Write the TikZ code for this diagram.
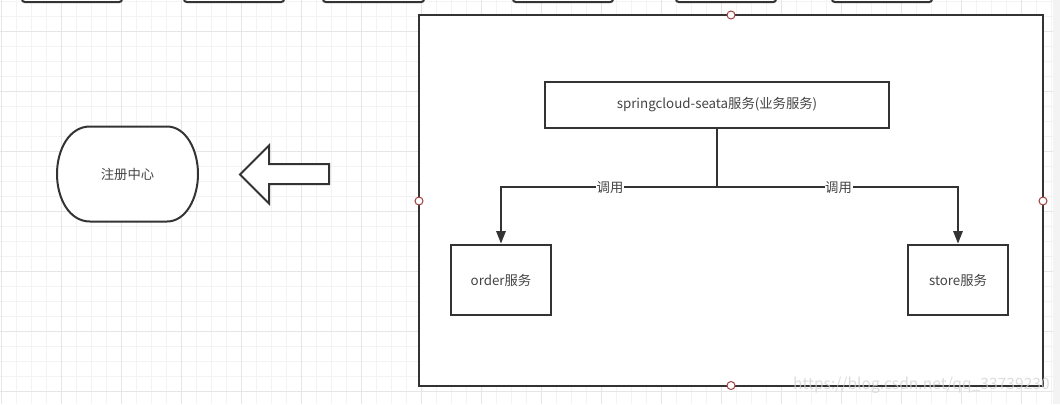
\documentclass[tikz,border=0pt]{standalone}
\usepackage{fontspec}
\setmainfont{Noto Sans CJK SC}
\usetikzlibrary{arrows.meta}
\definecolor{ink}{HTML}{333333}
\definecolor{txt}{HTML}{444444}
\definecolor{minorg}{HTML}{F3F3F3}
\definecolor{majorg}{HTML}{E6E6E6}
\definecolor{handle}{HTML}{A04040}
\tikzset{
  x=0.75pt,y=-0.75pt,
  shapebox/.style={draw=ink,line width=1.5pt,fill=white,text=txt,font=\fontsize{10}{12}\selectfont,inner sep=0pt,outer sep=0pt,align=center},
  plaintext/.style={text=txt,font=\fontsize{10}{12}\selectfont,inner sep=0pt},
  outline/.style={draw=ink,line width=1.5pt,fill=white},
  topbox/.style={draw=ink,line width=1.5pt,fill=white,rounded corners=2pt},
  link/.style={draw=ink,line width=1.5pt},
  linkarrow/.style={link,-{Triangle[length=9.5pt,width=7pt]},shorten >=1pt},
  linklabel/.style={fill=white,text=txt,font=\fontsize{10}{12}\selectfont,inner xsep=0.5pt,inner ysep=0pt},
  handlept/.style={circle,draw=handle,fill=white,line width=0.75pt,minimum size=6pt,inner sep=0pt}
}
\begin{document}
\begin{tikzpicture}
\useasboundingbox (0,0) rectangle (1060,404);
\fill[white] (0,0) rectangle (1060,404);
% grid
\foreach \k in {0,...,70} {\draw[minorg,line width=0.75pt] ({1.7+15*\k},0) -- ({1.7+15*\k},404);}
\foreach \k in {0,...,26} {\draw[minorg,line width=0.75pt] (0,{1.7+15*\k}) -- (1060,{1.7+15*\k});}
\foreach \k in {0,...,17} {\draw[majorg,line width=0.75pt] ({1.7+60*\k},0) -- ({1.7+60*\k},404);}
\foreach \k in {0,...,6} {\draw[majorg,line width=0.75pt] (0,{31.7+60*\k}) -- (1060,{31.7+60*\k});}
\fill[minorg] (1053,0) rectangle (1060,404);
% clipped top boxes
\foreach \a/\b in {22/122,184/284,323/424,513/613,676/776,832/932}
  {\draw[topbox] (\a,-10) rectangle (\b,2);}
% container
\node[shapebox,minimum width=468pt,minimum height=277.9pt,anchor=north west] (frame) at (419,15) {};
% registry
\draw[outline] (90,126.5) -- (167,126.5)
  .. controls (186,126.5) and (198,150) .. (198,174)
  .. controls (198,198) and (186,221.5) .. (167,221.5)
  -- (90,221.5)
  .. controls (69,221.5) and (57,198) .. (57,174)
  .. controls (57,150) and (69,126.5) .. (90,126.5) -- cycle;
\node[plaintext] (registry) at (127.5,174.5) {注册中心};
% big arrow
\draw[outline,line join=miter] (329,164) -- (269,164) -- (269,145.5) -- (240,174.5) -- (269,203.5) -- (269,184) -- (329,184) -- cycle;
% service boxes
\node[shapebox,minimum width=258pt,minimum height=35pt] (main) at (717,105) {springcloud-seata服务(业务服务)};
\node[shapebox,minimum width=75pt,minimum height=52.5pt] (order) at (501,280) {order服务};
\node[shapebox,minimum width=75pt,minimum height=52.5pt] (store) at (958,280) {store服务};
% connectors
\coordinate (branch) at (717,187);
\draw[link] (main.south) -- (branch);
\draw[linkarrow] (branch) -| (order.north);
\draw[linkarrow] (branch) -| (store.north);
\node[linklabel] (callleft) at (610,187.5) {调用};
\node[linklabel] (callright) at (838.5,187.5) {调用};
% handles
\node[handlept] (ht) at (731,15) {};
\node[handlept] (hl) at (419,201) {};
\node[handlept] (hr) at (1043,201) {};
\node[handlept] (hb) at (731,385.5) {};
% watermark
\node[text=black!18,opacity=0.75,font=\fontsize{11.7}{14}\selectfont,anchor=east,inner sep=0pt] (wm) at (1050,385) {https://blog.csdn.net/qq\_33739230};
\end{tikzpicture}
\end{document}
